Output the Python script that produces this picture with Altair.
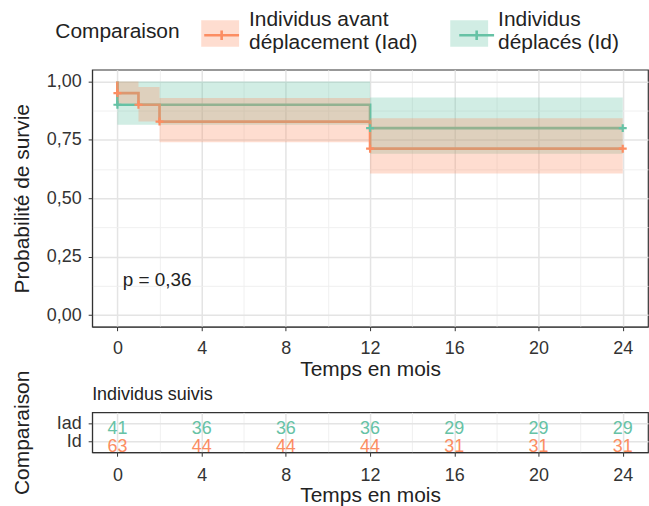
import altair as alt
import pandas as pd

FONT = "Liberation Sans"
groups = ["Iad", "Id"]
line_colors = ["#FC8D62", "#66C2A5"]          # Iad orange, Id green (curves)
table_colors = ["#66C2A5", "#FC8D62"]         # risk table text colours (as in the reference)

# Kaplan-Meier curves (step-after)
iad_time = [0, 0, 1, 2, 12, 24]
iad_surv = [1.0, 0.95, 0.90, 0.828, 0.712, 0.712]
id_time = [0, 0, 12, 24]
id_surv = [1.0, 0.90, 0.80, 0.80]

# confidence bands
iad_ci_time = [0, 1, 2, 12, 24]
iad_lower = [0.905, 0.828, 0.739, 0.606, 0.606]
iad_upper = [1.0, 0.976, 0.929, 0.842, 0.842]
id_ci_time = [0, 12, 24]
id_lower = [0.814, 0.69, 0.69]
id_upper = [1.0, 0.931, 0.931]

# censoring marks
iad_cens_time = [0, 1, 2, 12, 24]
iad_cens_surv = [0.95, 0.90, 0.828, 0.712, 0.712]
id_cens_time = [0, 12, 24]
id_cens_surv = [0.90, 0.80, 0.80]

# risk table
risk_time = [0, 4, 8, 12, 16, 20, 24]
risk_iad = [41, 36, 36, 36, 29, 29, 29]
risk_id = [63, 44, 44, 44, 31, 31, 31]

major_x = [0, 4, 8, 12, 16, 20, 24]
minor_x = [2, 6, 10, 14, 18, 22]
major_y = [0, 0.25, 0.5, 0.75, 1.0]
minor_y = [0.125, 0.375, 0.625, 0.875]

pval_text = ["p = 0,36"]
pval_x = [0.25]
pval_y = [0.148]

# ---------- tables ----------
curve = pd.DataFrame({
    "time": iad_time + id_time,
    "surv": iad_surv + id_surv,
    "grp": ["Iad"] * len(iad_time) + ["Id"] * len(id_time),
    "ord": list(range(len(iad_time))) + list(range(len(id_time))),
})
band = pd.DataFrame({
    "time": iad_ci_time + id_ci_time,
    "lower": iad_lower + id_lower,
    "upper": iad_upper + id_upper,
    "grp_b": ["Iad"] * len(iad_ci_time) + ["Id"] * len(id_ci_time),
})
cens = pd.DataFrame({
    "time": iad_cens_time + id_cens_time,
    "surv": iad_cens_surv + id_cens_surv,
    "grp": ["Iad"] * len(iad_cens_time) + ["Id"] * len(id_cens_time),
})
pval = pd.DataFrame({"x": pval_x, "y": pval_y, "t": pval_text})
risk = pd.DataFrame({
    "time": risk_time * 2,
    "n": risk_iad + risk_id,
    "grp": ["Iad"] * len(risk_time) + ["Id"] * len(risk_time),
})

XDOM = [-1.2, 25.2]
YDOM = [-0.05, 1.05]
W = 558

label_expr = ("datum.value == 'Iad' ? ['Individus avant', 'déplacement (Iad)'] "
              ": ['Individus', 'déplacés (Id)']")

common_legend = dict(
    orient="none", legendX=-37, legendY=-69, direction="horizontal", columns=2,
    title="Comparaison", titleOrient="left", titleFontSize=21, titleFont=FONT,
    titleFontWeight="normal", titlePadding=21.5, titleAnchor="middle",
    titleBaseline="line-top", titleLineHeight=10,
    labelFontSize=21, labelFont=FONT, labelExpr=label_expr, labelLimit=400,
    labelOffset=10, columnPadding=32, symbolSize=1444,
)

fill_legend = alt.Legend(
    symbolType="M-1,0.02H1V1.42H-1Z", symbolOpacity=0.3, symbolStrokeWidth=0,
    labelColor="#222222", titleColor="#222222", **common_legend)
stroke_legend = alt.Legend(
    symbolType="M-0.92,0.72H0.92M0,0.47V0.97", symbolStrokeWidth=2.6,
    symbolFillColor="transparent", labelColor="transparent", titleColor="transparent",
    **common_legend)

x_main = alt.Axis(values=major_x, title="Temps en mois", grid=True, labelPadding=9,
                  titlePadding=1)
y_main = alt.Axis(values=major_y, title="Probabilité de survie", grid=True, labelPadding=7,
                  labelExpr="replace(format(datum.value, '.2f'), '.', ',')", titlePadding=14)
x_minor = alt.Axis(values=minor_x, orient="top", labels=False, ticks=False, domain=False,
                   title=None, grid=True, gridColor="#EEEEEE", gridWidth=0.9)
y_minor = alt.Axis(values=minor_y, orient="right", labels=False, ticks=False, domain=False,
                   title=None, grid=True, gridColor="#EEEEEE", gridWidth=0.9)

xs = alt.Scale(domain=XDOM, nice=False, zero=False)
ys = alt.Scale(domain=YDOM, nice=False, zero=False)
stroke_scale = alt.Scale(domain=groups, range=line_colors)


def line_layer(grp, xaxis, yaxis):
    return alt.Chart(curve).transform_filter(alt.datum.grp == grp).mark_line(
        interpolate="step-after", strokeWidth=2.7).encode(
        x=alt.X("time:Q", scale=xs, axis=xaxis),
        y=alt.Y("surv:Q", scale=ys, axis=yaxis),
        stroke=alt.Stroke("grp:N", scale=stroke_scale, legend=stroke_legend),
        order="ord:Q",
    )


line_id = line_layer("Id", x_main, y_main)
line_iad = line_layer("Iad", None, None)


def band_layer(grp, xaxis, yaxis):
    return alt.Chart(band).transform_filter(alt.datum.grp_b == grp).mark_area(
        interpolate="step-after", opacity=0.3).encode(
        x=alt.X("time:Q", scale=xs, axis=xaxis),
        y=alt.Y("lower:Q", scale=ys, axis=yaxis),
        y2="upper:Q",
        fill=alt.Fill("grp_b:N", scale=alt.Scale(range=line_colors), legend=fill_legend),
    )


band_id = band_layer("Id", x_minor, y_minor)
band_iad = band_layer("Iad", None, None)

marks = alt.Chart(cens).mark_point(
    shape="M-1,0H1M0,-1V1", size=64, strokeWidth=2.2, filled=False, opacity=1).encode(
    x=alt.X("time:Q", scale=xs, axis=None),
    y=alt.Y("surv:Q", scale=ys, axis=None),
    stroke=alt.Stroke("grp:N", scale=stroke_scale, legend=None),
)

ptext = alt.Chart(pval).mark_text(align="left", baseline="middle", fontSize=19, font=FONT,
                                  color="#222222").encode(
    x=alt.X("x:Q", scale=xs, axis=None),
    y=alt.Y("y:Q", scale=ys, axis=None),
    text="t:N",
)

main = alt.layer(line_id, line_iad, band_id, band_iad, marks, ptext).resolve_axis(
    x="independent", y="independent").properties(width=W, height=258)

# ---------- risk table ----------
rx = alt.Scale(domain=XDOM, nice=False, zero=False)
ry = alt.Scale(type="point", domain=groups, padding=0.6)

rtext = alt.Chart(risk).mark_text(fontSize=18, font=FONT, baseline="middle", dy=5.5).encode(
    x=alt.X("time:Q", scale=rx,
            axis=alt.Axis(values=major_x, title="Temps en mois", grid=True, labelPadding=10,
                          titlePadding=0)),
    y=alt.Y("grp:N", scale=ry,
            axis=alt.Axis(title="Comparaison", grid=True, labelPadding=7, titlePadding=24)),
    text="n:Q",
    color=alt.Color("grp:N", scale=alt.Scale(domain=groups, range=table_colors), legend=None),
)
rminor = alt.Chart(risk).mark_point(opacity=0).encode(
    x=alt.X("time:Q", scale=rx, axis=x_minor),
    y=alt.Y("grp:N", scale=ry, axis=None),
)
table = alt.layer(rtext, rminor).resolve_axis(x="independent", y="independent").properties(
    width=W, height=40,
    title=alt.TitleParams("Individus suivis", anchor="start", frame="group", fontSize=18,
                          font=FONT, fontWeight="normal", color="#222222", offset=8, dy=42),
)

chart = alt.vconcat(main, table, spacing=86, bounds="flush").configure_view(
    stroke="#333333", strokeWidth=1.2
).configure_axis(
    labelFont=FONT, titleFont=FONT, labelFontSize=18, titleFontSize=21,
    labelColor="#333333", titleColor="#222222", titleFontWeight="normal",
    domainColor="#333333", tickColor="#333333", tickSize=4, labelPadding=8,
    gridColor="#E4E4E4", gridWidth=1.5,
).properties(padding={"left": 10.5, "top": 0, "right": 0, "bottom": 0})

chart.save("out.html", embed_options={"renderer": "svg", "actions": False})
